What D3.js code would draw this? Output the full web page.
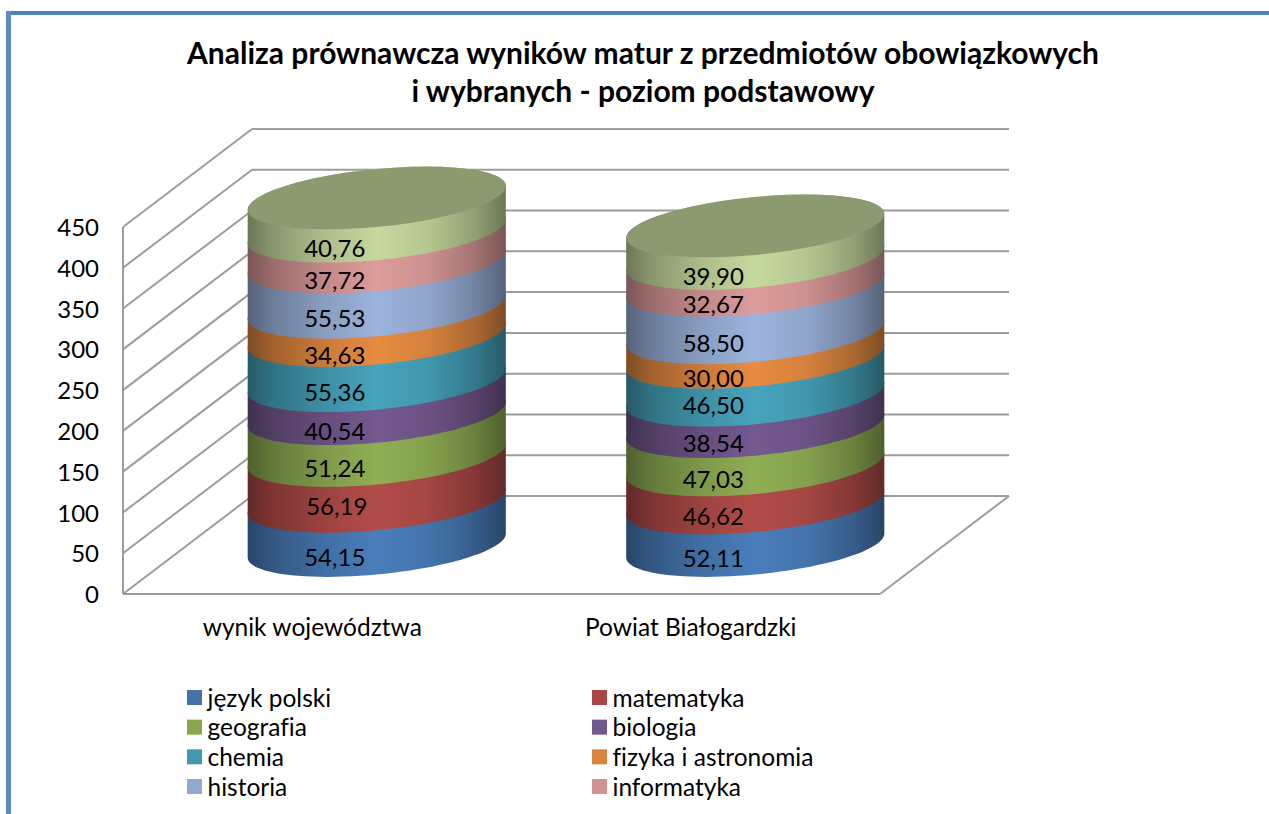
<!DOCTYPE html>
<html><head><meta charset="utf-8">
<script src="https://cdn.jsdelivr.net/npm/d3@7"></script>
<style>html,body{margin:0;padding:0;background:#fff}svg{display:block}text{font-family:Lato,"Noto Sans",sans-serif;fill:#000;font-variant-ligatures:none}</style>
</head><body><svg id="c" width="1269" height="814"></svg>
<script>
const titleLines = ["Analiza prównawcza wyników matur z przedmiotów obowiązkowych","i wybranych - poziom podstawowy"];
const categories = ["wynik województwa","Powiat Białogardzki"];
const yTicks = [0,50,100,150,200,250,300,350,400,450];
const legendNames = ["język polski","matematyka","geografia","biologia","chemia","fizyka i astronomia","historia","informatyka"];
const legendColors = ["#4572a7","#aa4643","#89a54e","#71588f","#4198af","#db843d","#93a9cf","#d19392"];
const sideColors = ["#4a7ebb","#b24c49","#90ae54","#75598f","#46a4bc","#e78c42","#9cb3dc","#de9c9c","#c5d89d"];
const topColor = "#8c9a70";
const wynikWojewodztwa = [54.15,56.19,51.24,40.54,55.36,34.63,55.53,37.72,40.76];
const powiatBialogardzki = [52.11,46.62,47.03,38.54,46.50,30.00,58.50,32.67,39.90];
const seriesByCategory = [wynikWojewodztwa,powiatBialogardzki];
const labelNudgeY = [[0,-6,0,0,0,0,0,0,0],[0,-2,0,-2,-5,-1,0,-1,0]];
const labelNudgeX = [[0,2,0,0,0,0,0,0,0],[0,0,0,0,0,0,0,0,0]];

const svg = d3.select("#c");
const W = {x0:123,x1:880,depthX:129,depthY:98,y0:594,y1:227};
const yFront = d3.scaleLinear().domain([0,450]).range([W.y0,W.y1]);
const yBack  = d3.scaleLinear().domain([0,450]).range([W.y0-W.depthY,W.y1-W.depthY]);
const yMid   = v => (yFront(v)+yBack(v))/2 + 0.5;
const xBand  = d3.scaleBand().domain(categories).range([W.x0,W.x1]);
const xCat   = c => xBand(c)+xBand.bandwidth()/2;

// page frame
svg.append("rect").attr("x",6).attr("y",11).attr("width",1263).attr("height",4).attr("fill","#4f81bd");
svg.append("rect").attr("x",6).attr("y",11).attr("width",5).attr("height",803).attr("fill","#5d8ac4");

// title
svg.selectAll(".t").data(titleLines).join("text").attr("x",643).attr("y",(d,i)=>64+i*38)
  .attr("text-anchor","middle").attr("font-size",30).attr("font-weight",700).text(d=>d);

// walls
const grid = svg.append("g").attr("fill","none").attr("stroke","#9c9c9c").attr("stroke-width",2);
yTicks.forEach(t=>{
  grid.append("line").attr("x1",W.x0).attr("y1",yFront(t)).attr("x2",W.x0+W.depthX).attr("y2",yBack(t));
  grid.append("line").attr("x1",W.x0+W.depthX).attr("y1",yBack(t)).attr("x2",W.x1+W.depthX).attr("y2",yBack(t));
});
grid.append("line").attr("x1",W.x0).attr("y1",W.y1).attr("x2",W.x0).attr("y2",W.y0);
grid.append("line").attr("x1",W.x0).attr("y1",W.y0).attr("x2",W.x1).attr("y2",W.y0);
grid.append("line").attr("x1",W.x1).attr("y1",W.y0).attr("x2",W.x1+W.depthX).attr("y2",yBack(0));

// axis labels
const axis = svg.append("g").attr("transform",`translate(${W.x0},0)`)
  .call(d3.axisLeft(yFront).tickValues(yTicks).tickSize(0).tickPadding(24));
axis.select(".domain").remove();
axis.selectAll("text").attr("font-size",24).style("font-family","Lato").attr("dy","0.36em");
svg.selectAll(".cat").data(categories).join("text").attr("x",xCat).attr("y",636)
  .attr("text-anchor","middle").attr("font-size",24.5).text(d=>d);

// gradients
const defs = svg.append("defs");
const stops = [[0,.55],[.1,.7],[.3,.88],[.5,1],[.7,.92],[.88,.74],[1,.55]];
sideColors.forEach((c,i)=>{
  const g = defs.append("linearGradient").attr("id","g"+i).attr("x1",0).attr("x2",1).attr("y1",0).attr("y2",0);
  stops.forEach(s=>{
    const col = d3.rgb(c);
    g.append("stop").attr("offset",s[0]).attr("stop-color",d3.rgb(col.r*s[1],col.g*s[1],col.b*s[1]).formatHex());
  });
});

// cylinders
const A = xBand.bandwidth()*0.341, B = 29, SH = 12;
const arc = (cx,cy,from,to)=>d3.range(0,49).map(k=>{
  const t = from+(to-from)*k/48;
  return [cx+A*Math.cos(t), cy+B*Math.sin(t)-SH*Math.cos(t)];
});
const path = d3.line().curve(d3.curveLinear);
categories.forEach((cat,ci)=>{
  const cx = xCat(cat)+W.depthX/2;
  const vals = seriesByCategory[ci];
  const g = svg.append("g");
  let cum = 0;
  const labels = [];
  vals.forEach((v,i)=>{
    const yb = yMid(cum), yt = yMid(cum+v);
    const pts = arc(cx,yb,0,Math.PI).concat(arc(cx,yt,Math.PI,2*Math.PI));
    g.append("path").attr("d",path(pts)+"Z").attr("fill",`url(#g${i})`);
    labels.push({v,y:yMid(cum+v/2)+34+labelNudgeY[ci][i],dx:labelNudgeX[ci][i]});
    cum += v;
  });
  g.append("path").attr("d",path(arc(cx,yMid(cum),0,2*Math.PI))+"Z").attr("fill",topColor);
  g.selectAll("text").data(labels).join("text").attr("x",d=>cx-42+d.dx).attr("y",d=>d.y)
    .attr("dy","0.36em").attr("text-anchor","middle").attr("font-size",24)
    .text(d=>d3.format(".2f")(d.v).replace(".",","));
});

// legend
const legendX = d3.scalePoint().domain([0,1]).range([187,592]);
const legendY = d3.scalePoint().domain([0,1,2,3]).range([698,787]);
const lg = svg.selectAll(".lg").data(legendNames).join("g")
  .attr("transform",(d,i)=>`translate(${legendX(i%2)},${legendY(Math.floor(i/2))})`);
lg.append("rect").attr("x",0).attr("y",-8).attr("width",15).attr("height",15).attr("fill",(d,i)=>legendColors[i]);
lg.append("text").attr("x",20.5).attr("y",0).attr("dy","0.36em").attr("font-size",24.5).text(d=>d);
</script></body></html>
